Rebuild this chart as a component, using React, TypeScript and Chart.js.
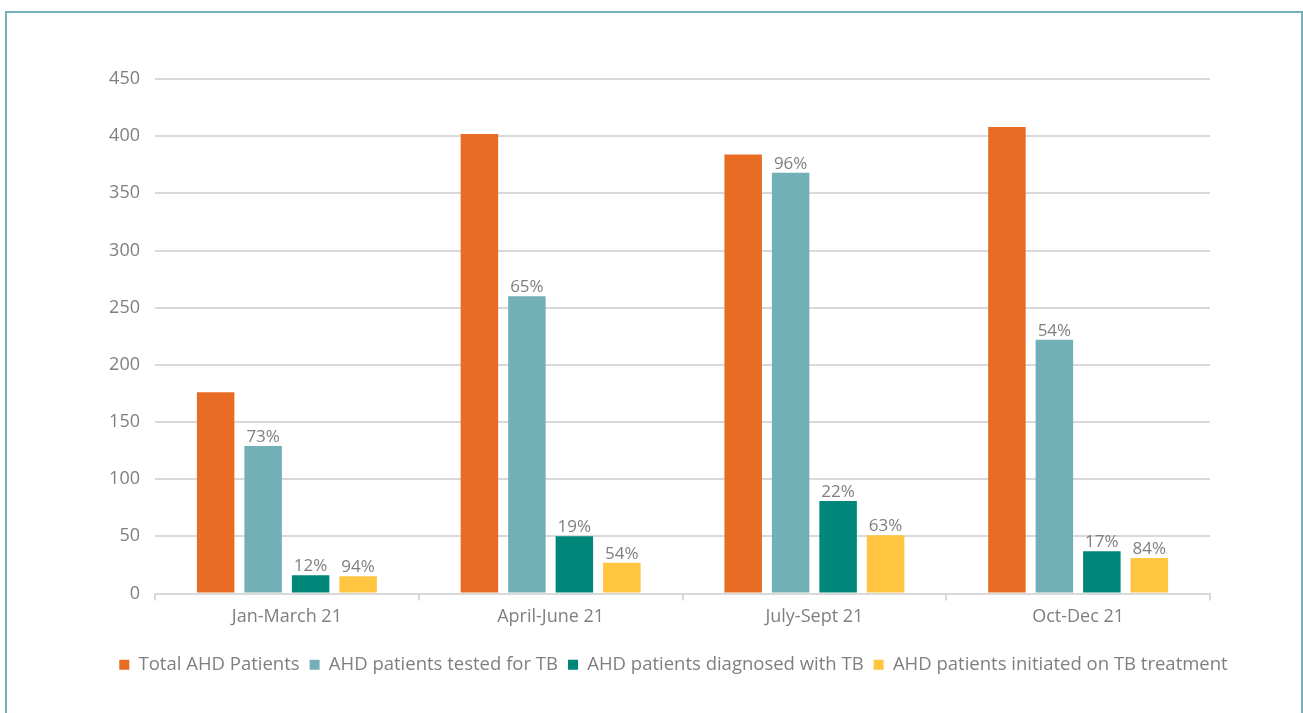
import React, { useEffect, useRef } from "react";
import { Chart, registerables } from "chart.js";

Chart.register(...registerables);

const quarters = ["Jan-March 21", "April-June 21", "July-Sept 21", "Oct-Dec 21"];
const totalPatients = [176, 402, 384, 408];
const testedForTB = [129, 260, 368, 222];
const diagnosedWithTB = [16, 50, 81, 37];
const initiatedOnTreatment = [15, 27, 51, 31];
const seriesNames = [
  "Total AHD Patients",
  "AHD patients tested for TB",
  "AHD patients diagnosed with TB",
  "AHD patients initiated on TB treatment",
];
const seriesColors = ["#E86C23", "#73AFB6", "#00877A", "#FFC540"];

const FONT = "'Open Sans'";
const TEXT = "#7f7f7f";
const GRID = "#d9d9d9";

// Each bar (after the first series) is labelled with its share of the previous stage.
const stageRatioLabels = {
  id: "stageRatioLabels",
  afterDatasetsDraw(chart: any) {
    const ctx = chart.ctx;
    ctx.save();
    ctx.font = `17px ${FONT}`;
    ctx.fillStyle = TEXT;
    ctx.textAlign = "center";
    ctx.textBaseline = "alphabetic";
    for (let d = 1; d < chart.data.datasets.length; d++) {
      const cur = chart.data.datasets[d].data as number[];
      const prev = chart.data.datasets[d - 1].data as number[];
      const meta = chart.getDatasetMeta(d);
      meta.data.forEach((bar: any, i: number) => {
        const pct = Math.round((cur[i] / prev[i]) * 100);
        ctx.fillText(`${pct}%`, bar.x, bar.y - 4);
      });
    }
    ctx.restore();
  },
};

// The legend row is centred across [0, CANVAS_W - PAD_RIGHT]; an empty right-hand
// axis reserves the space between the plot's right edge and that bound.
const CANVAS_W = 1303;
const PAD_RIGHT = -44;
const PLOT_LEFT = 155;
const PLOT_RIGHT = 1210;

export default function App() {
  const canvasRef = useRef<HTMLCanvasElement | null>(null);

  useEffect(() => {
    if (!canvasRef.current) return;
    const values = [totalPatients, testedForTB, diagnosedWithTB, initiatedOnTreatment];
    const chart = new Chart(canvasRef.current, {
      type: "bar",
      data: {
        labels: quarters,
        datasets: values.map((v, i) => ({
          label: seriesNames[i],
          data: v,
          backgroundColor: seriesColors[i],
          borderWidth: 0,
          barPercentage: 0.79,
          categoryPercentage: 0.72,
        })),
      },
      options: {
        responsive: false,
        animation: false,
        devicePixelRatio: 1,
        layout: { padding: { left: 0, right: PAD_RIGHT, top: 79, bottom: 29 } },
        plugins: {
          tooltip: { enabled: false },
          legend: {
            position: "bottom",
            labels: {
              boxWidth: 10,
              boxHeight: 10,
              padding: 10,
              color: TEXT,
              font: { family: FONT, size: 18.5 },
            },
          },
        },
        scales: {
          x: {
            afterFit: (s: any) => {
              s.height = 52;
            },
            grid: {
              drawOnChartArea: false,
              drawTicks: true,
              tickLength: 7,
              color: GRID,
              lineWidth: 2,
            },
            border: { display: true, color: GRID, width: 2 },
            ticks: { color: TEXT, font: { family: FONT, size: 18 }, padding: 6 },
          },
          y: {
            min: 0,
            max: 450,
            afterFit: (s: any) => {
              s.width = PLOT_LEFT;
            },
            ticks: { stepSize: 50, color: TEXT, font: { family: FONT, size: 18 }, padding: 15 },
            grid: { color: GRID, lineWidth: 2, drawTicks: false },
            border: { display: false },
          },
          spacer: {
            type: "linear",
            position: "right",
            display: true,
            ticks: { display: false },
            grid: { display: false, drawTicks: false },
            border: { display: false },
            afterFit: (s: any) => {
              s.width = CANVAS_W - PAD_RIGHT - PLOT_RIGHT;
            },
          },
        },
      },
      plugins: [stageRatioLabels],
    });
    return () => chart.destroy();
  }, []);

  return (
    <div style={{ position: "fixed", left: 0, top: 0, width: 1303, height: 713, background: "#fff", overflow: "hidden" }}>
      <div
        style={{
          position: "absolute",
          left: 5,
          top: 11,
          width: 1294,
          height: 720,
          border: "2px solid #76B1B8",
          borderBottom: "none",
        }}
      />
      <canvas ref={canvasRef} width={CANVAS_W} height={713} style={{ position: "absolute", left: 0, top: 0 }} />
    </div>
  );
}
